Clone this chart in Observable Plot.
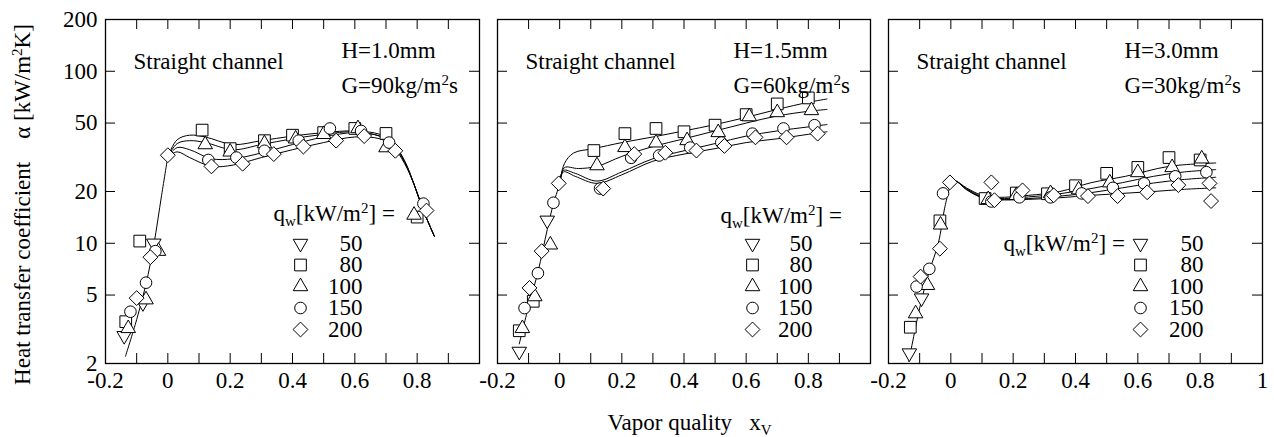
<!DOCTYPE html>
<html>
<head>
<meta charset="utf-8">
<script src="https://cdn.jsdelivr.net/npm/d3@7"></script>
<script src="https://cdn.jsdelivr.net/npm/@observablehq/plot@0.6"></script>
<style>
  body { margin: 0; background: #fff; }
  #chart { position: relative; width: 1274px; height: 437px; background: #fff; font-family: 'Liberation Serif', 'Times New Roman', serif; }
  #chart svg { position: absolute; top: 0; }
  #chart svg text { font-family: 'Liberation Serif', 'Times New Roman', serif; }
</style>
</head>
<body>
<div id="chart"></div>
<script>
// ---------- labels / ticks ----------
const fluxLevels = ["50", "80", "100", "150", "200"];
const yTicks = [2, 5, 10, 20, 50, 100, 200];
const xTicks = [-0.2, -0.1, 0, 0.1, 0.2, 0.3, 0.4, 0.5, 0.6, 0.7, 0.8, 0.9, 1.0];
const xLabels12 = [-0.2, 0, 0.2, 0.4, 0.6, 0.8];
const xLabels3 = [-0.2, 0, 0.2, 0.4, 0.6, 0.8, 1];
const channelLabel = "Straight channel";
const gapLabels = ["H=1.0mm", "H=1.5mm", "H=3.0mm"];
const massFluxLabels = ["G=90kg/m^{2}s", "G=60kg/m^{2}s", "G=30kg/m^{2}s"];
const legendTitle = "q_{w}[kW/m^{2}] =";
const yLabel = "Heat transfer coefficient\u00a0\u00a0\u00a0\u00a0α [kW/m^{2}K]";
const xLabel = "Vapor quality\u00a0\u00a0 x_{V}";

// ---------- panel 1 : H=1.0mm, G=90 ----------
const p1_q50  = [[-0.14, 2.9], [-0.08, 4.5], [-0.045, 10.0]];
const p1_q80  = [[-0.135, 3.5], [-0.09, 10.3], [0.11, 45.5], [0.20, 35.5], [0.31, 39.5], [0.40, 42.5], [0.50, 44], [0.60, 46.5], [0.70, 43.5], [0.80, 14.2]];
const p1_q100 = [[-0.127, 3.2], [-0.07, 4.7], [-0.03, 9.0], [0.12, 37.5], [0.20, 34], [0.31, 38], [0.41, 40.5], [0.50, 43], [0.61, 46.5], [0.70, 36], [0.79, 14.6]];
const p1_q150 = [[-0.12, 4.0], [-0.07, 5.9], [-0.04, 9.0], [0.13, 30.5], [0.22, 31.5], [0.31, 34.5], [0.42, 39.5], [0.52, 46.5], [0.62, 45], [0.71, 38.5], [0.82, 17]];
const p1_q200 = [[-0.10, 4.8], [-0.056, 8.3], [0.0, 32.5], [0.14, 28], [0.24, 29], [0.34, 33], [0.435, 36.5], [0.54, 39.5], [0.63, 42], [0.73, 34.5], [0.83, 15.5]];
const p1_rise   = [[-0.136, 2.2], [-0.1, 3.6], [-0.07, 5.8], [-0.045, 9.8], [-0.02, 19], [0.0, 32]];
const p1_fit80  = [[0.0, 32], [0.03, 40], [0.07, 42.5], [0.12, 41.5], [0.21, 37.5], [0.3, 39.5], [0.4, 42], [0.5, 44], [0.6, 45], [0.68, 43], [0.72, 39], [0.76, 30], [0.79, 22], [0.82, 15.5], [0.855, 11]];
const p1_fit100 = [[0.0, 32], [0.03, 38], [0.07, 39.5], [0.12, 38.5], [0.21, 35], [0.3, 37.5], [0.4, 40.5], [0.5, 43], [0.6, 44.5], [0.68, 42], [0.72, 38.5], [0.76, 30], [0.79, 22], [0.82, 15.5], [0.855, 11]];
const p1_fit150 = [[0.0, 32], [0.03, 36], [0.07, 35], [0.14, 31], [0.21, 31], [0.3, 33.5], [0.4, 37.5], [0.5, 41.5], [0.6, 44], [0.68, 42], [0.72, 38], [0.76, 29.5], [0.79, 22], [0.82, 15.5], [0.855, 11]];
const p1_fit200 = [[0.0, 32], [0.03, 34], [0.07, 31.5], [0.14, 28], [0.21, 28.5], [0.3, 31.5], [0.4, 35], [0.5, 38.5], [0.6, 41.5], [0.68, 40.5], [0.72, 37], [0.76, 29], [0.79, 22], [0.82, 15.5], [0.855, 11]];

// ---------- panel 2 : H=1.5mm, G=60 ----------
const p2_q50  = [[-0.13, 2.35], [-0.04, 13.6]];
const p2_q80  = [[-0.13, 3.1], [-0.085, 4.6], [0.11, 34.6], [0.21, 43.4], [0.31, 46.5], [0.40, 44.5], [0.50, 48.6], [0.60, 56], [0.70, 64.6], [0.80, 70]];
const p2_q100 = [[-0.12, 3.2], [-0.08, 4.9], [-0.03, 9.8], [0.12, 28.3], [0.21, 36.1], [0.31, 38.4], [0.41, 39.6], [0.51, 44.1], [0.61, 54.5], [0.70, 57.6], [0.81, 59.2]];
const p2_q150 = [[-0.113, 4.2], [-0.07, 6.7], [-0.02, 17.2], [0.13, 20.8], [0.23, 31.4], [0.32, 32.4], [0.42, 36], [0.52, 38.5], [0.62, 43.4], [0.72, 46.5], [0.82, 48.6]];
const p2_q200 = [[-0.097, 5.5], [-0.058, 9.0], [-0.003, 22.3], [0.14, 20.8], [0.24, 33], [0.34, 33.6], [0.44, 34.6], [0.53, 36.8], [0.63, 41.3], [0.73, 41.3], [0.83, 43.4]];
const p2_rise   = [[-0.13, 2.6], [-0.1, 4.3], [-0.07, 6.8], [-0.04, 12], [-0.02, 17], [0.0, 22]];
const p2_fit80  = [[0.0, 22], [0.015, 29], [0.045, 33.5], [0.11, 35.5], [0.2, 38.5], [0.3, 41.5], [0.4, 45], [0.5, 49], [0.6, 54], [0.7, 60], [0.8, 66], [0.86, 69]];
const p2_fit100 = [[0.0, 22], [0.015, 27.5], [0.06, 27.2], [0.12, 28], [0.2, 32], [0.3, 36.5], [0.4, 40.5], [0.5, 45], [0.6, 50], [0.7, 55], [0.8, 58.5], [0.86, 60]];
const p2_fit150 = [[0.0, 22], [0.012, 26.5], [0.05, 25.5], [0.12, 23], [0.2, 26], [0.3, 31], [0.4, 34.5], [0.5, 38], [0.6, 42], [0.7, 45], [0.8, 47.5], [0.86, 49]];
const p2_fit200 = [[0.0, 22], [0.012, 26], [0.05, 24.5], [0.12, 22.3], [0.2, 25], [0.3, 30], [0.4, 33], [0.5, 35.5], [0.6, 38.5], [0.7, 40.5], [0.8, 43], [0.86, 44.5]];

// ---------- panel 3 : H=3.0mm, G=30 ----------
const p3_q50  = [[-0.133, 2.3], [-0.094, 4.8]];
const p3_q80  = [[-0.13, 3.25], [-0.035, 13.5], [0.11, 18.2], [0.21, 19.6], [0.31, 19.4], [0.40, 21.6], [0.50, 25.5], [0.60, 27.6], [0.70, 31.5], [0.80, 30.5]];
const p3_q100 = [[-0.113, 3.9], [-0.075, 5.7], [-0.033, 12.8], [0.12, 18], [0.21, 19], [0.32, 19.5], [0.41, 20.5], [0.51, 22.5], [0.60, 25.8], [0.71, 27.6], [0.805, 31]];
const p3_q150 = [[-0.11, 5.6], [-0.069, 7.1], [-0.025, 19.5], [0.13, 17.5], [0.22, 18.5], [0.32, 18.5], [0.42, 19.5], [0.52, 21], [0.62, 22.3], [0.72, 24.5], [0.82, 25.9]];
const p3_q200 = [[-0.097, 6.4], [-0.035, 9.3], [-0.003, 22.6], [0.13, 22.6], [0.14, 17.8], [0.23, 20.3], [0.33, 19], [0.44, 18.8], [0.535, 18.8], [0.63, 19.8], [0.73, 21.8], [0.83, 22.3], [0.835, 17.6]];
const p3_rise   = [[-0.135, 2.05], [-0.1, 4.2], [-0.07, 6.8], [-0.04, 10], [-0.02, 16], [0.0, 22.5]];
const p3_fit80  = [[0.0, 22.5], [0.015, 23], [0.05, 21], [0.1, 19], [0.15, 18.5], [0.25, 19], [0.35, 20], [0.45, 22.5], [0.56, 24.5], [0.7, 28], [0.85, 29.3]];
const p3_fit100 = [[0.0, 22.5], [0.015, 23], [0.05, 20.8], [0.1, 18.7], [0.15, 18.2], [0.25, 18.6], [0.35, 19.4], [0.45, 20.8], [0.55, 22.5], [0.65, 24.5], [0.75, 26], [0.85, 26.8]];
const p3_fit150 = [[0.0, 22.5], [0.015, 23], [0.05, 20.6], [0.1, 18.5], [0.15, 18], [0.25, 18.2], [0.35, 18.8], [0.45, 19.7], [0.55, 21], [0.65, 22.4], [0.75, 23.5], [0.85, 24.2]];
const p3_fit200 = [[0.0, 22.5], [0.015, 23], [0.05, 20.5], [0.1, 18.4], [0.15, 17.9], [0.25, 18], [0.35, 18.4], [0.45, 19], [0.55, 19.5], [0.65, 20], [0.75, 20.6], [0.85, 21]];

// ---------- styles ----------
const FONT = "'Liberation Serif', 'Times New Roman', serif";
const FS = 23;
const H = 437, MT = 19, MB = 74;
const markerStyles = [
  {symbol: "triangle", r: 5.4, rotate: 180},
  {symbol: "square", r: 6.6, rotate: 0},
  {symbol: "triangle", r: 5.4, rotate: 0},
  {symbol: "circle", r: 5.8, rotate: 0},
  {symbol: "diamond2", r: 6.7, rotate: 0}
];
const legendRowDy = [224, 245.5, 267, 288.5, 310];

const panels = [
  {left: 0, marginLeft: 105, width: 487, marginRight: 8,
   points: [p1_q50, p1_q80, p1_q100, p1_q150, p1_q200],
   fits: [p1_rise, p1_fit80, p1_fit100, p1_fit150, p1_fit200],
   xLabels: xLabels12, idx: 0, yAxis: true, xTitle: false,
   leg: {titleDx: 168, titleDy: 194, symDx: 195, valDx: 257}},
  {left: 477, marginLeft: 20, width: 401, marginRight: 8,
   points: [p2_q50, p2_q80, p2_q100, p2_q150, p2_q200],
   fits: [p2_rise, p2_fit80, p2_fit100, p2_fit150, p2_fit200],
   xLabels: xLabels12, idx: 1, yAxis: false, xTitle: true,
   leg: {titleDx: 223, titleDy: 196, symDx: 255, valDx: 315}},
  {left: 868, marginLeft: 20, width: 406, marginRight: 12,
   points: [p3_q50, p3_q80, p3_q100, p3_q150, p3_q200],
   fits: [p3_rise, p3_fit80, p3_fit100, p3_fit150, p3_fit200],
   xLabels: xLabels3, idx: 2, yAxis: false, xTitle: false,
   leg: {titleDx: 115, titleDy: 224, symDx: 252, valDx: 315}}
];

function richify(svg) {
  const NS = "http://www.w3.org/2000/svg";
  svg.querySelectorAll("text").forEach(t => {
    const s = t.textContent;
    if (!/[_^]\{/.test(s)) return;
    const parts = s.split(/([_^]\{[^}]*\})/).filter(p => p.length);
    while (t.firstChild) t.removeChild(t.firstChild);
    let shift = 0;
    for (const p of parts) {
      const ts = document.createElementNS(NS, "tspan");
      let target = 0, txt = p, small = false;
      if (p.startsWith("_{")) { target = 5; txt = p.slice(2, -1); small = true; }
      else if (p.startsWith("^{")) { target = -8; txt = p.slice(2, -1); small = true; }
      ts.setAttribute("dy", target - shift);
      shift = target;
      if (small) ts.setAttribute("font-size", "15");
      ts.textContent = txt;
      t.appendChild(ts);
    }
  });
}

const chart = document.getElementById("chart");
const txt = {fontSize: FS, fontFamily: FONT, fill: "black", lineAnchor: "middle"};

for (const cfg of panels) {
  const plotW = cfg.width - cfg.marginLeft - cfg.marginRight;
  const plotH = H - MT - MB;
  const marks = [
    Plot.ruleX(xTicks, {insetTop: plotH - 10, stroke: "black", strokeWidth: 1}),
    Plot.ruleX(xTicks, {insetBottom: plotH - 10, stroke: "black", strokeWidth: 1}),
    Plot.ruleY(yTicks, {insetRight: plotW - 10, stroke: "black", strokeWidth: 1}),
    Plot.ruleY(yTicks, {insetLeft: plotW - 10, stroke: "black", strokeWidth: 1}),
    Plot.frame({stroke: "black", strokeWidth: 1.3}),
    Plot.axisX(cfg.xLabels, {anchor: "bottom", tickSize: 0, tickPadding: 8, tickFormat: d => String(d), label: null, fontSize: FS, fontFamily: FONT, fill: "black"})
  ];
  if (cfg.yAxis) {
    marks.push(Plot.axisY(yTicks, {anchor: "left", tickSize: 0, tickPadding: 8, tickFormat: d => String(d), label: null, fontSize: FS, fontFamily: FONT, fill: "black"}));
    marks.push(Plot.text([yLabel], {...txt, frameAnchor: "left", rotate: -90, dx: -83, dy: 13, textAnchor: "middle"}));
  }
  // fitted curves
  cfg.fits.forEach(f => marks.push(Plot.line(f, {x: d => d[0], y: d => d[1], curve: "catmull-rom", stroke: "black", strokeWidth: 1})));
  // data markers
  cfg.points.forEach((pts, i) => {
    const s = markerStyles[i];
    marks.push(Plot.dot(pts, {x: d => d[0], y: d => d[1], symbol: s.symbol, r: s.r, rotate: s.rotate, fill: "white", stroke: "black", strokeWidth: 1}));
  });
  // annotations
  marks.push(Plot.text([channelLabel], {...txt, frameAnchor: "top-left", dx: 28, dy: 42, textAnchor: "start"}));
  marks.push(Plot.text([gapLabels[cfg.idx]], {...txt, frameAnchor: "top-left", dx: 236, dy: 31, textAnchor: "start"}));
  marks.push(Plot.text([massFluxLabels[cfg.idx]], {...txt, frameAnchor: "top-left", dx: 236, dy: 66, textAnchor: "start"}));
  // legend
  marks.push(Plot.text([legendTitle], {...txt, frameAnchor: "top-left", dx: cfg.leg.titleDx, dy: cfg.leg.titleDy, textAnchor: "start"}));
  fluxLevels.forEach((lab, i) => {
    const s = markerStyles[i];
    marks.push(Plot.dot([lab], {frameAnchor: "top-left", dx: cfg.leg.symDx, dy: legendRowDy[i], symbol: s.symbol, r: s.r, rotate: s.rotate, fill: "white", stroke: "black", strokeWidth: 1}));
    marks.push(Plot.text([lab], {...txt, frameAnchor: "top-left", dx: cfg.leg.valDx, dy: legendRowDy[i], textAnchor: "end"}));
  });
  if (cfg.xTitle) {
    marks.push(Plot.text([xLabel], {...txt, frameAnchor: "bottom-left", dx: 110, dy: 59, textAnchor: "start"}));
  }

  const svg = Plot.plot({
    width: cfg.width,
    height: H,
    marginLeft: cfg.marginLeft,
    marginRight: cfg.marginRight,
    marginTop: MT,
    marginBottom: MB,
    style: {background: "transparent", fontFamily: FONT, fontSize: FS + "px", color: "black", overflow: "visible"},
    x: {domain: [-0.2, 1.0]},
    y: {type: "log", domain: [2, 200], axis: cfg.yAxis ? undefined : null},
    marks
  });
  richify(svg);
  svg.style.left = cfg.left + "px";
  chart.appendChild(svg);
}
</script>
</body>
</html>
